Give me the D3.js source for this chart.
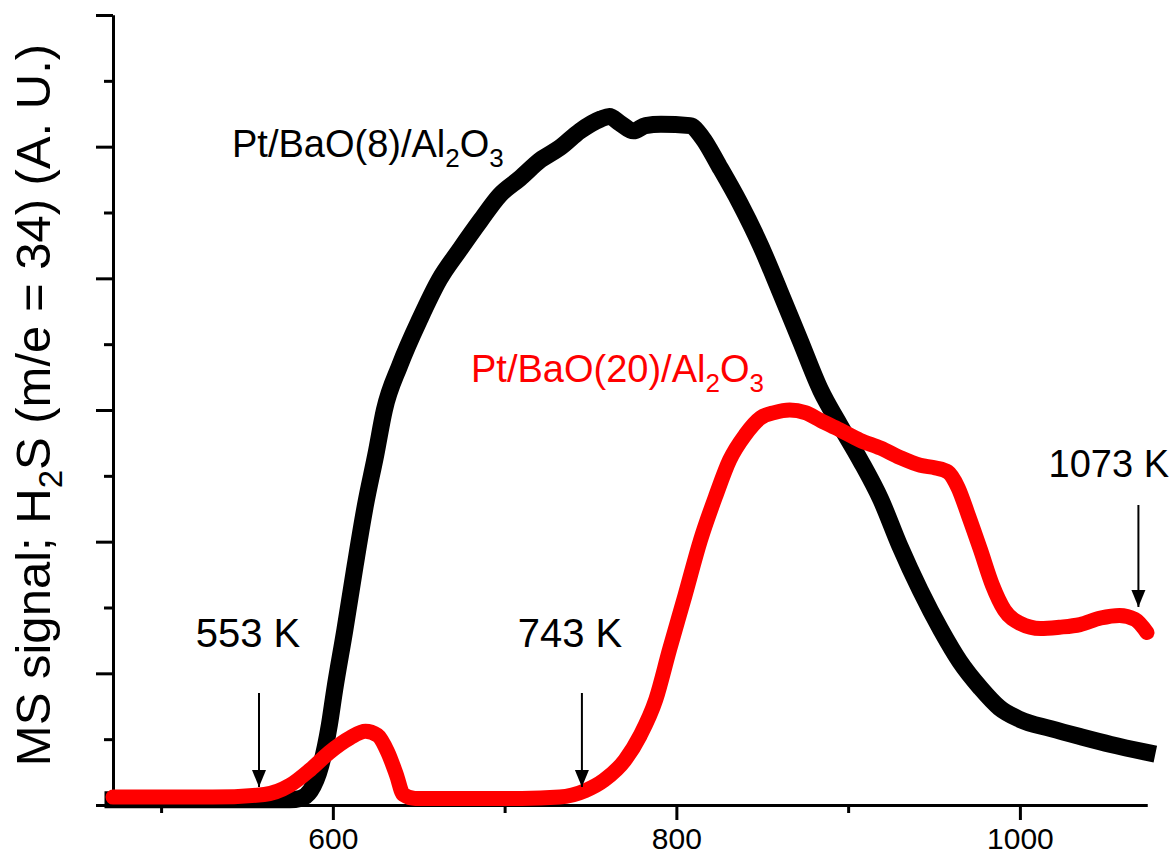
<!DOCTYPE html>
<html>
<head>
<meta charset="utf-8">
<script src="https://cdn.jsdelivr.net/npm/d3@7"></script>
<style>
body{margin:0;background:#fff;}
svg{display:block;font-family:"Liberation Sans",Arial,sans-serif;}
</style>
</head>
<body>
<svg id="chart" width="1173" height="859"></svg>
<script>
// Temperature (K) and signal (A.U.)
const blackT = [472,540,575,581,587,593,598,601,607,613,619,625,630,639,651,662,674,686,697,709,721,732,744,756,761,767,775,782,791,808,815,825,837,849,860,872,884,895,907,919,930,942,954,965,977,988,1000,1018,1035,1053,1074];
const blackV = [0.04,0.04,0.04,0.05,0.11,0.30,0.61,0.87,1.33,1.82,2.28,2.66,3.00,3.34,3.70,3.99,4.22,4.44,4.63,4.76,4.90,4.99,5.12,5.21,5.23,5.18,5.12,5.16,5.17,5.16,5.07,4.85,4.57,4.25,3.91,3.53,3.15,2.89,2.62,2.32,1.97,1.63,1.33,1.09,0.89,0.74,0.65,0.58,0.52,0.46,0.40];
const redT = [472,500,530,560,575,587,598,610,619,626,632,637,641,648,680,710,732,747,758,770,779,788,796,805,814,823,831,840,849,857,866,875,884,895,907,919,930,942,951,958,964,970,977,984,991,1000,1012,1023,1035,1047,1058,1067,1074];
const redV = [0.06,0.06,0.06,0.08,0.15,0.27,0.40,0.51,0.56,0.53,0.40,0.23,0.08,0.05,0.05,0.05,0.06,0.11,0.19,0.34,0.53,0.80,1.18,1.59,2.01,2.35,2.62,2.81,2.94,2.98,3.00,2.98,2.92,2.85,2.77,2.71,2.64,2.58,2.56,2.53,2.41,2.20,1.94,1.67,1.48,1.38,1.34,1.35,1.37,1.42,1.44,1.41,1.31];
const xTicks = [600,800,1000];
const xMinor = [500,700,900];
const yMajor = [0,1,2,3,4,5,6];
const yMinor = [0.5,1.5,2.5,3.5,4.5,5.5];
const arrowT = [557,745,1069];
const arrowLabels = ["553 K","743 K","1073 K"];
const seriesLabels = ["Pt/BaO(8)/Al", "Pt/BaO(20)/Al"];

const svg = d3.select("#chart");
const x = d3.scaleLinear().domain([472,1074]).range([113,1147]);
const y = d3.scaleLinear().domain([0,6]).range([805,15]);

// axes
const gx = svg.append("g").attr("transform","translate(0,805)");
gx.call(d3.axisBottom(x).tickValues(xTicks).tickSize(15).tickSizeOuter(0).tickFormat(d3.format("d")));
gx.append("g").call(d3.axisBottom(x).tickValues(xMinor).tickSize(8).tickSizeOuter(0).tickFormat(""));
gx.selectAll(".domain").attr("stroke-width",3);
gx.selectAll("line").attr("stroke-width",3);
gx.selectAll("text").attr("font-size",30).attr("y",23).attr("dy","0.71em").attr("fill","#000").attr("font-family","Liberation Sans, Arial, sans-serif");

const gy = svg.append("g").attr("transform","translate(113,0)");
gy.call(d3.axisLeft(y).tickValues(yMajor).tickSize(17).tickSizeOuter(0).tickFormat(""));
gy.append("g").call(d3.axisLeft(y).tickValues(yMinor).tickSize(9).tickSizeOuter(0).tickFormat(""));
gy.selectAll(".domain").attr("stroke-width",3);
gy.selectAll("line").attr("stroke-width",3);

// series
const line = d3.line().curve(d3.curveMonotoneX);
const bPts = blackT.map((t,i)=>[x(t),y(blackV[i])]);
const rPts = redT.map((t,i)=>[x(t),y(redV[i])]);
svg.append("path").attr("d",line(bPts)).attr("fill","none").attr("stroke","#000").attr("stroke-width",17).attr("stroke-linejoin","miter").attr("stroke-linecap","square");
svg.append("path").attr("d",line(rPts)).attr("fill","none").attr("stroke","#ff0000").attr("stroke-width",15).attr("stroke-linejoin","round").attr("stroke-linecap","round");

// series labels
function chemLabel(xp, yp, base, color){
  const t = svg.append("text").attr("x",xp).attr("y",yp).attr("font-size",38).attr("fill",color);
  t.append("tspan").text(base);
  t.append("tspan").text("2").attr("font-size",26).attr("dy",10);
  t.append("tspan").text("O").attr("dy",-10);
  t.append("tspan").text("3").attr("font-size",26).attr("dy",10);
}
chemLabel(232,157,seriesLabels[0],"#000");
chemLabel(471,382,seriesLabels[1],"#ff0000");

// arrows
const arrowTop = [693,693,505];
const arrowBot = [787,787,607];
arrowT.forEach((t,i)=>{
  svg.append("line").attr("x1",x(t)).attr("x2",x(t)).attr("y1",arrowTop[i]).attr("y2",arrowBot[i]).attr("stroke","#000").attr("stroke-width",2);
  svg.append("path").attr("d",`M${x(t)-7},${arrowBot[i]-17}L${x(t)+7},${arrowBot[i]-17}L${x(t)},${arrowBot[i]}Z`).attr("fill","#000");
});
svg.append("text").attr("x",248).attr("y",647).attr("text-anchor","middle").attr("font-size",40).text(arrowLabels[0]);
svg.append("text").attr("x",570).attr("y",647).attr("text-anchor","middle").attr("font-size",40).text(arrowLabels[1]);
svg.append("text").attr("x",1169).attr("y",477).attr("text-anchor","end").attr("font-size",38).text(arrowLabels[2]);

// y label
const yl = svg.append("text").attr("transform","translate(50,405) rotate(-90)").attr("text-anchor","middle").attr("font-size",49);
yl.append("tspan").text("MS signal; H");
yl.append("tspan").text("2").attr("font-size",33).attr("dy",12);
yl.append("tspan").text("S (m/e = 34) (A. U.)").attr("dy",-12);
</script>
</body>
</html>
